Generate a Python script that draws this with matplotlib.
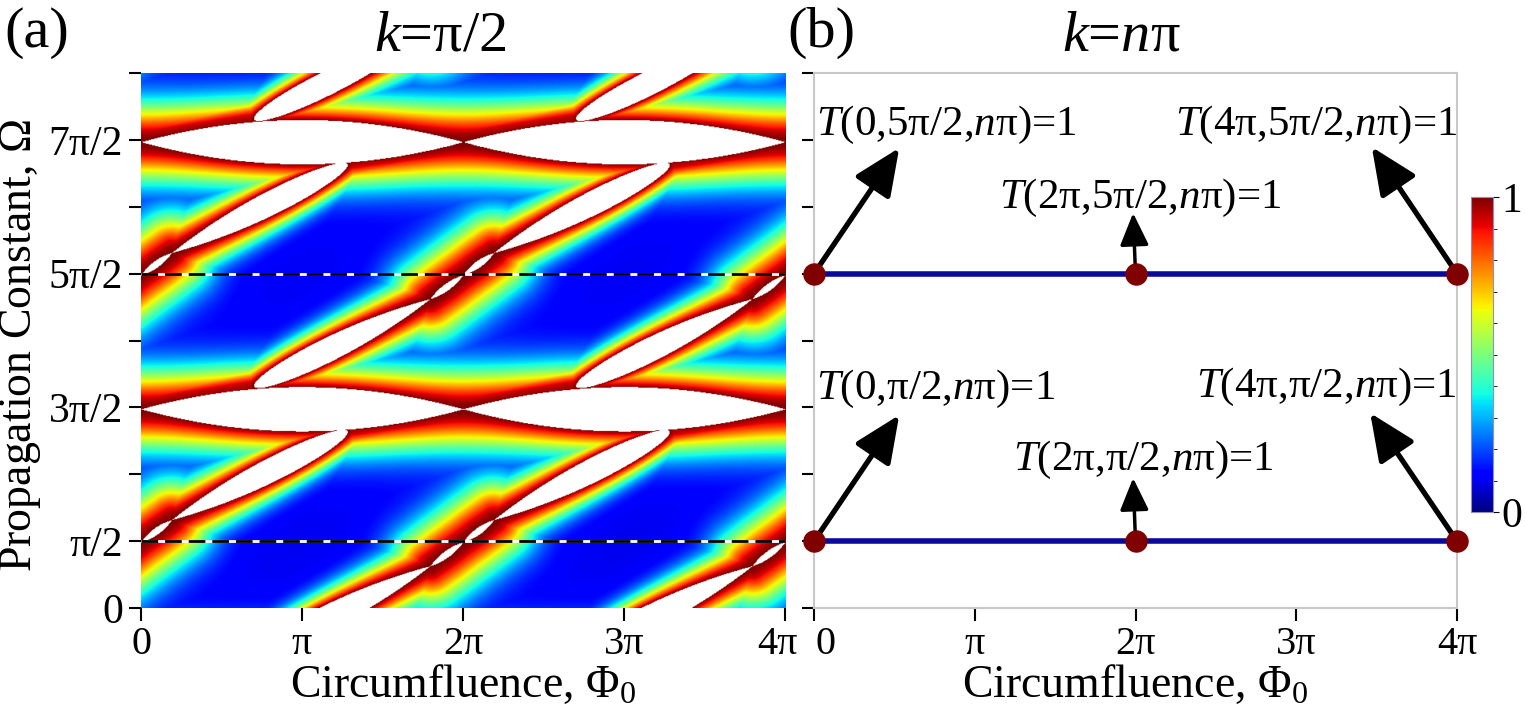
import numpy as np
import matplotlib
matplotlib.use('Agg')
import matplotlib.pyplot as plt
import matplotlib.transforms as mtransforms
from matplotlib.ticker import MultipleLocator

plt.rcParams['font.family'] = ['Liberation Serif', 'DejaVu Serif']
plt.rcParams['mathtext.fontset'] = 'custom'
plt.rcParams['mathtext.rm'] = 'Liberation Serif'
plt.rcParams['mathtext.it'] = 'Liberation Serif:italic'

PI = np.pi

# --- panel (a): resonance ridges of T, one 2pi x 2pi cell,
#     all in units of pi (u = Phi0/pi, v = Omega/pi)
seg_u0 = [0.00, 0.19, 0.70, -0.205, 0.00, 1.28, 0.00]
seg_v0 = [1.485, 0.655, 1.655, 0.31, 0.49, 1.32, 1.53]
seg_u1 = [2.00, 1.28, 1.795, 0.00, 0.19, 2.00, 0.70]
seg_v1 = [1.485, 1.32, 2.31, 0.49, 0.655, 1.44, 1.665]
seg_peak = [0.35, 0.30, 0.30, 0.008, 0.008, -0.05, -0.05]   # log of peak T
seg_w0 = [0.28, 0.21, 0.135, 0.28, 0.28, 0.135, 0.135]       # ridge width at start
seg_w1 = [0.28, 0.135, 0.21, 0.28, 0.28, 0.135, 0.135]       # ridge width at end
seg_kind = ['pp', 'pf', 'fp', 'pp', 'pp', 'rr', 'rr']        # p = pinch, f = free tip

# --- panel (b)
res_phi = [0, 2, 4]          # Phi0 / pi where T = 1
res_omega = [0.5, 2.5]       # Omega / pi
tip_u = [[0.53, 1.985, 3.46], [0.53, 1.985, 3.47]]
tip_v = [[1.443, 0.972, 1.458], [3.44, 2.953, 3.447]]
lab_txt = [[r'$T$(0,π/2,$n$π)=1', r'$T$(2π,π/2,$n$π)=1', r'$T$(4π,π/2,$n$π)=1'],
           [r'$T$(0,5π/2,$n$π)=1', r'$T$(2π,5π/2,$n$π)=1', r'$T$(4π,5π/2,$n$π)=1']]
lab_u = [[0.01, 2.05, 4.0], [0.01, 2.03, 4.0]]
lab_v = [[1.56, 1.03, 1.58], [3.54, 2.99, 3.54]]
lab_ha = ['left', 'center', 'right']

# ---- build T map
AX = 1.2   # u stretched so distances are roughly isotropic on screen
nu, nv = 820, 680
u = np.linspace(0, 4, nu)
v = np.linspace(0, 4, nv)
U, V = np.meshgrid(u, v)
X, Y = U * AX, V

Tmax = np.zeros_like(U)
tail = np.zeros_like(U)
for du in (-2, 0, 2, 4):
    for dv in (-2, 0, 2, 4):
        for i in range(len(seg_u0)):
            x0, y0 = (seg_u0[i] + du) * AX, seg_v0[i] + dv
            x1, y1 = (seg_u1[i] + du) * AX, seg_v1[i] + dv
            dx, dy = x1 - x0, y1 - y0
            L = np.hypot(dx, dy)
            tx, ty = dx / L, dy / L
            rx, ry = X - x0, Y - y0
            sl = rx * tx + ry * ty
            dn = -rx * ty + ry * tx
            s = sl / L
            sc = np.clip(s, 0, 1)
            w = seg_w0[i] + (seg_w1[i] - seg_w0[i]) * sc
            k = seg_kind[i]
            if k == 'pp':
                f = 16 * s**2 * (1 - s)**2
            elif k == 'pf':
                f = 6.75 * s**2 * (1 - s)
            elif k == 'fp':
                f = 6.75 * s * (1 - s)**2
            else:
                f = np.ones_like(s)
            a = seg_peak[i] * f
            base = seg_peak[i] if k == 'rr' else 0
            if k[0] in 'pr':
                a = np.where(sl < 0, base - (sl / w)**2, a)
            if k[1] in 'pr':
                a = np.where(sl > L, base - ((sl - L) / w)**2, a)
            T = np.exp(np.clip(a - (dn / w)**2, -50, 5))
            Tmax = np.maximum(Tmax, T)
            d = np.hypot(dn, sl - np.clip(sl, 0, L))
            tail += 1.0 / (1 + (d / 0.4)**2)

Tfield = Tmax + 0.026 * tail * (1 - np.clip(Tmax, 0, 1))

cmap = plt.get_cmap('jet').copy()
cmap.set_over('white')

fig = plt.figure(figsize=(15.25, 7.07), dpi=100)
axa = fig.add_axes([0.0925, 0.140, 0.4223, 0.7567])
axb = fig.add_axes([0.5338, 0.140, 0.4216, 0.7567])
cax = fig.add_axes([0.9646, 0.2758, 0.0144, 0.4455])

im = axa.imshow(Tfield, extent=[0, 4 * PI, 0, 4 * PI], origin='lower', aspect='auto',
                cmap=cmap, vmin=0, vmax=1, interpolation='bilinear')
for yy in (0.5 * PI, 2.5 * PI):
    axa.axhline(yy, color='white', lw=2)
    axa.axhline(yy, color='black', lw=2, dashes=(6, 2.5))
axa.set_xlim(0, 4 * PI)
axa.set_ylim(0, 4 * PI)

xt = [0, PI, 2 * PI, 3 * PI, 4 * PI]
xl = ['0', 'π', '2π', '3π', '4π']
yt = [k * PI / 2 for k in range(9)]
yl = ['0', 'π/2', '', '3π/2', '', '5π/2', '', '7π/2', '']
for ax in (axa, axb):
    ax.set_xticks(xt)
    ax.set_xticklabels(xl)
    ax.set_yticks(yt)
    ax.tick_params(direction='out', length=9, width=1.5, labelsize=30, pad=4)
    ax.tick_params(axis='x', labelsize=29)
    ax.set_xlabel(r'Circumfluence, $\Phi_0$', fontsize=33, labelpad=0)
axa.set_yticklabels(yl)
axb.set_yticklabels([''] * len(yt))
axa.set_ylabel(r'Propagation Constant, $\mathit{\Omega}$', fontsize=33)
axa.yaxis.set_label_coords(-0.152, 0.49)
for sp in axa.spines.values():
    sp.set_visible(False)

# nudge the crowded edge labels apart
lab_l = axa.get_xticklabels()[-1]
lab_l.set_transform(lab_l.get_transform() + mtransforms.ScaledTranslation(-8 / 100, 0, fig.dpi_scale_trans))
lab_r = axb.get_xticklabels()[0]
lab_r.set_transform(lab_r.get_transform() + mtransforms.ScaledTranslation(11 / 100, 0, fig.dpi_scale_trans))

# panel (b)
axb.set_xlim(0, 4 * PI)
axb.set_ylim(0, 4 * PI)
for sp in axb.spines.values():
    sp.set_color('#c8c8c8')
    sp.set_linewidth(1.5)
for j, om in enumerate(res_omega):
    axb.plot([0, 4 * PI], [om * PI, om * PI], color='#0a0a9a', lw=4, zorder=2)
    axb.scatter([p * PI for p in res_phi], [om * PI] * len(res_phi), s=230,
                color='#800000', zorder=4, clip_on=False)
    for i, p in enumerate(res_phi):
        thin = (i == 1)
        axb.annotate('', xy=(tip_u[j][i] * PI, tip_v[j][i] * PI), xytext=(p * PI, om * PI),
                     arrowprops=dict(arrowstyle='-|>,head_length=0.9,head_width=0.4',
                                     color='black', lw=2.5 if thin else 3.8,
                                     mutation_scale=22 if thin else 32,
                                     shrinkA=0, shrinkB=0), zorder=3)
        axb.text(lab_u[j][i] * PI, lab_v[j][i] * PI, lab_txt[j][i], fontsize=31,
                 ha=lab_ha[i], va='baseline')

cb = fig.colorbar(im, cax=cax, ticks=[0, 1])
cb.ax.set_yticklabels(['0', '1'])
cb.ax.tick_params(labelsize=30, length=4, pad=2)
cb.ax.yaxis.set_minor_locator(MultipleLocator(0.1))
cb.ax.tick_params(which='minor', length=3)
cb.outline.set_edgecolor('#9090c0')

fig.text(0.003, 0.99, '(a)', fontsize=42, va='top', ha='left')
fig.text(0.289, 0.985, r'$k$=π/2', fontsize=42, va='top', ha='center')
fig.text(0.516, 0.99, '(b)', fontsize=42, va='top', ha='left')
fig.text(0.735, 0.985, r'$k$=$n$π', fontsize=42, va='top', ha='center')

fig.savefig('out.png', dpi=100)
